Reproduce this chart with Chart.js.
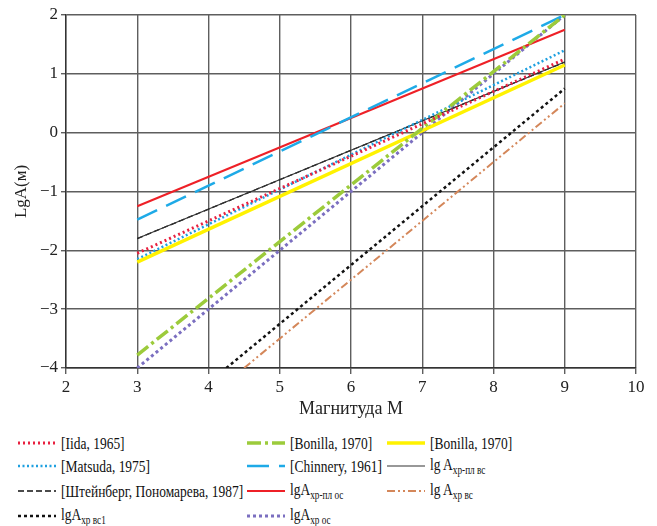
<!DOCTYPE html>
<html>
<head>
<meta charset="utf-8">
<script src="https://cdn.jsdelivr.net/npm/chart.js@4.4.1/dist/chart.umd.min.js"></script>
<style>
  body { margin: 0; background: #fff; }
  #wrap { position: relative; width: 657px; height: 526px; }
  #chartBox { position: absolute; left: 0; top: 0; width: 657px; height: 420px; }
  .leg { position: absolute; display: flex; align-items: center; font-family: "Liberation Serif", "DejaVu Serif", serif; font-size: 17.5px; color: #111; white-space: nowrap; }
  .leg canvas { margin-right: 5px; }
  .leg span { display: inline-block; transform: scaleX(0.77); transform-origin: left center; }
  .leg sub { font-size: 12px; vertical-align: -4px; }
</style>
</head>
<body>
<div id="wrap">
  <div id="chartBox"><canvas id="lgChart"></canvas></div>
  <div id="legend"></div>
</div>
<script>
// magnitude range shared by most of the relations
const M = [3, 9];

const iida = [-2.05, 1.25];
const matsuda = [-2.15, 1.4];
const steinberg = [-1.8, 1.2];
const bonillaDash = [-3.78, 2.0];
const bonillaSolid = [-2.2, 1.15];
const chinnery = [-1.48, 2.0];
const plVs = [-1.8, 1.2];
const plOs = [-1.25, 1.75];
const xpOs = [-4.0, 2.0];

// these two start where they enter the plot at lgA = -4
const vs1M = [4.25, 9];
const vs1 = [-4.0, 0.75];
const vsM = [4.5, 9];
const vs = [-4.0, 0.5];

const xTicks = [2, 3, 4, 5, 6, 7, 8, 9, 10];
const yTicks = [-4, -3, -2, -1, 0, 1, 2];

function pts(xs, ys) {
  return xs.map((x, i) => ({ x: x, y: ys[i] }));
}

function line(label, sub, xs, ys, color, width, dash) {
  return {
    label: label,
    sub: sub,
    data: pts(xs, ys),
    borderColor: color,
    backgroundColor: color,
    borderWidth: width,
    borderDash: dash,
    showLine: true,
    pointRadius: 0,
    fill: false
  };
}

const datasets = [
  line('[Iida, 1965]', '', M, iida, '#e8203f', 3, [2, 3]),
  line('[Bonilla, 1970]', '', M, bonillaDash, '#9ccb3b', 3.5, [14, 4, 3, 4]),
  line('[Bonilla, 1970]', '', M, bonillaSolid, '#fff200', 3.5, []),
  line('[Matsuda, 1975]', '', M, matsuda, '#1ea0e0', 2.5, [2, 2.5]),
  line('[Chinnery, 1961]', '', M, chinnery, '#1eaae7', 2.5, [22, 10]),
  line('lg A', 'хр-пл вс', M, plVs, '#333', 1.1, []),
  line('[Штейнберг, Пономарева, 1987]', '', M, steinberg, '#111', 1.3, [6, 3]),
  line('lgA', 'хр-пл ос', M, plOs, '#ee2027', 2, []),
  line('lg A', 'хр вс', vsM, vs, '#d4875a', 2, [8, 3, 2, 3, 2, 3]),
  line('lgA', 'хр вс1', vs1M, vs1, '#111', 2.5, [3, 3]),
  line('lgA', 'хр ос', M, xpOs, '#7b6fc0', 3, [3, 3])
];

const serif = '"Liberation Serif", "DejaVu Serif", serif';

const chart = new Chart(document.getElementById('lgChart'), {
  type: 'scatter',
  data: { datasets: datasets },
  options: {
    responsive: true,
    maintainAspectRatio: false,
    animation: false,
    layout: { padding: { top: 15, right: 21, left: 0, bottom: 0 } },
    plugins: { legend: { display: false }, tooltip: { enabled: false } },
    scales: {
      x: {
        type: 'linear',
        min: 2, max: 10,
        afterBuildTicks: s => { s.ticks = xTicks.map(v => ({ value: v })); },
        afterFit: s => { s.height = 52; },
        grid: { color: '#5e5e5e', lineWidth: 1.4, tickLength: 6, drawTicks: true },
        border: { color: '#333', width: 1.4 },
        ticks: { color: '#222', font: { family: serif, size: 17 }, padding: 3 },
        title: { display: true, text: 'Магнитуда М', color: '#222', font: { family: serif, size: 18 }, padding: { top: 0, bottom: 0 } }
      },
      y: {
        min: -4, max: 2,
        afterBuildTicks: s => { s.ticks = yTicks.map(v => ({ value: v })); },
        afterFit: s => { s.width = 66; },
        grid: { color: '#5e5e5e', lineWidth: 1.4, tickLength: 5 },
        border: { color: '#333', width: 1.4 },
        ticks: {
          color: '#222', font: { family: serif, size: 17 }, padding: 3,
          callback: v => String(v).replace('-', '\u2212')
        },
        title: { display: true, text: 'LgA(м)', color: '#222', font: { family: serif, size: 17 }, padding: { top: 11, bottom: 0 } }
      }
    }
  }
});

// legend with subscripts, laid out in three columns
const cols = [18, 247, 387];
const rows = [443, 466, 491, 516];
const legend = document.getElementById('legend');
datasets.forEach((ds, i) => {
  const col = cols[i % 3];
  const row = rows[Math.floor(i / 3)];
  const item = document.createElement('div');
  item.className = 'leg';
  item.style.left = col + 'px';
  item.style.top = (row - 11) + 'px';
  item.style.height = '22px';

  const c = document.createElement('canvas');
  c.width = 38; c.height = 10;
  const ctx = c.getContext('2d');
  ctx.strokeStyle = ds.borderColor;
  ctx.lineWidth = ds.borderWidth;
  ctx.setLineDash(ds.borderDash);
  ctx.beginPath();
  ctx.moveTo(0, 5); ctx.lineTo(38, 5);
  ctx.stroke();
  item.appendChild(c);

  const t = document.createElement('span');
  t.textContent = ds.label;
  if (ds.sub) {
    const s = document.createElement('sub');
    s.textContent = ds.sub;
    t.appendChild(s);
  }
  item.appendChild(t);
  legend.appendChild(item);
});
</script>
</body>
</html>
